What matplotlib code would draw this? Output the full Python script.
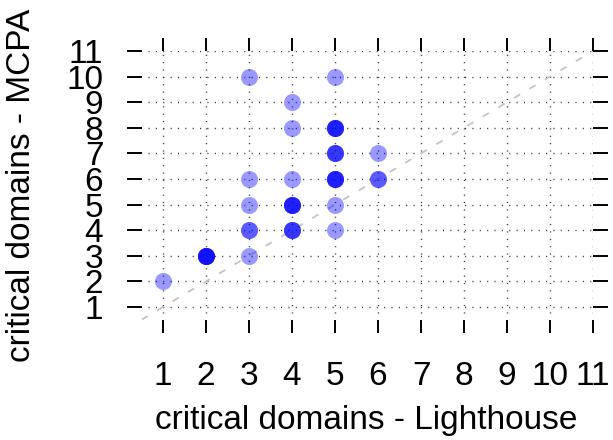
import matplotlib
matplotlib.use("Agg")
import matplotlib.pyplot as plt

# data: (Lighthouse, MCPA) pairs and how many observations overlap at each
lighthouse = [1, 2, 3, 3, 3, 3, 3, 4, 4, 4, 4, 4, 5, 5, 5, 5, 5, 5, 6, 6]
mcpa       = [2, 3, 3, 4, 5, 6, 10, 4, 5, 6, 8, 9, 4, 5, 6, 7, 8, 10, 6, 7]
counts     = [1, 5, 1, 2, 1, 1, 1, 3, 4, 1, 1, 1, 1, 1, 4, 3, 4, 1, 2, 1]
ticks = list(range(1, 12))
tick_labels = [str(t) for t in ticks]
xlabel = "critical domains - Lighthouse"
ylabel = "critical domains - MCPA"

plt.rcParams['font.family'] = ['Liberation Sans', 'DejaVu Sans']

fig = plt.figure(figsize=(6.13, 4.40), dpi=100)
ax = fig.add_axes([141.5/613, 1-319.8/440, (593-141.5)/613, (319.8-51)/440])
ax.set_xlim(0.5, 11)
ax.set_ylim(0.5, 11)
for s in ax.spines.values():
    s.set_visible(False)

# dotted grid
ax.hlines(ticks, 0.65, 11, colors='#333333', linestyles=(0, (0.8, 4.5)), linewidth=1.0, zorder=1)
ax.vlines(ticks, 0.75, 11, colors='#333333', linestyles=(0, (0.8, 4.5)), linewidth=1.0, zorder=1)

# diagonal reference
ax.plot([0.5, 11], [0.5, 11], color='#c4c4c4', linestyle=(0, (4, 6)), linewidth=1.3, zorder=2)

# points (overplotted with transparency)
for x, y, c in zip(lighthouse, mcpa, counts):
    for _ in range(c):
        ax.scatter([x], [y], s=150, color='#0000ff', alpha=0.4, linewidths=0, zorder=3)

ax.set_xticks(ticks)
ax.set_xticklabels(tick_labels)
ax.set_yticks(ticks)
ax.set_yticklabels(tick_labels)
ax.tick_params(axis='x', which='both', direction='out', length=9.4, width=1.4,
               top=True, bottom=True, labeltop=False, labelsize=24, pad=20)
ax.tick_params(axis='y', which='both', direction='out', length=10.5, width=1.4,
               left=True, right=True, labelright=False, labelsize=24, pad=17)

fig.text(366/613, 1-420/440, xlabel, ha='center', va='center', fontsize=24)
fig.text(22/613, 1-185/440, ylabel, ha='center', va='center', fontsize=24, rotation=90)

fig.savefig("out.png", dpi=100)
